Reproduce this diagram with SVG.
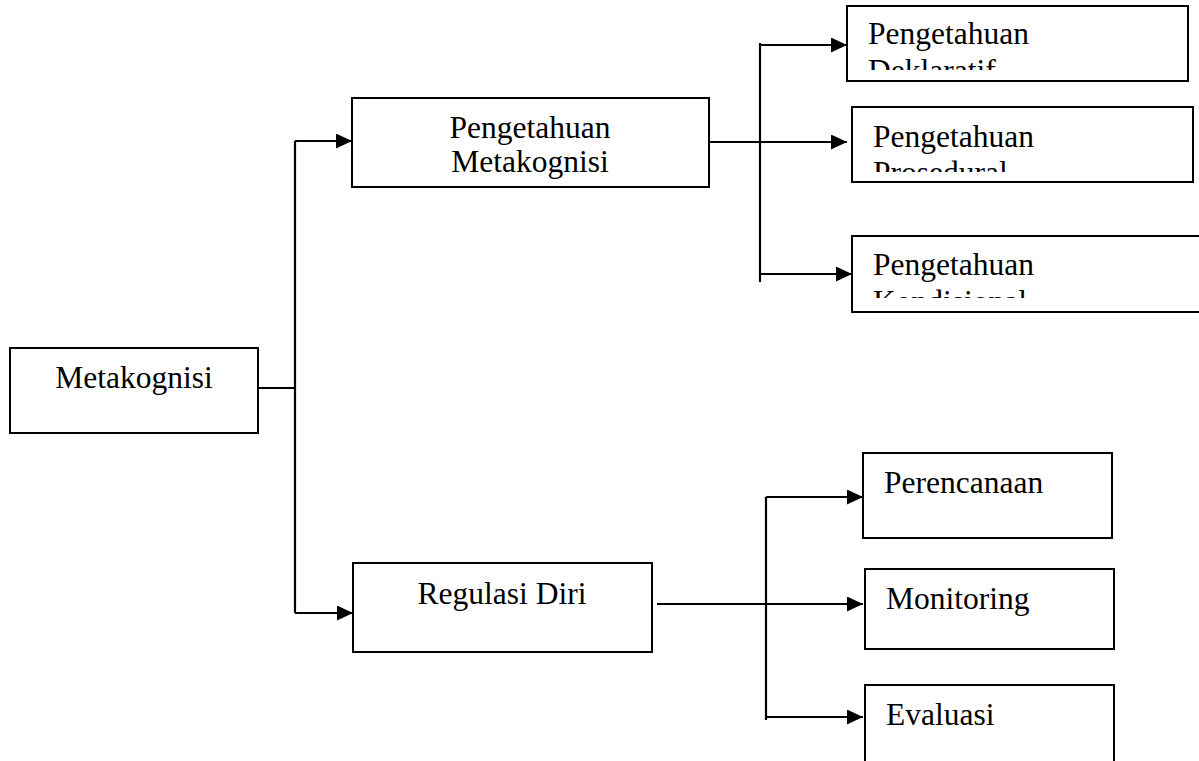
<svg xmlns="http://www.w3.org/2000/svg" width="1199" height="761" viewBox="0 0 1199 761">
<style>
.box{fill:#fff;stroke:#000;stroke-width:2}
.t{font-family:"Liberation Serif","Times New Roman",serif;font-size:31.5px;fill:#000}
.c{fill:none;stroke:#000;stroke-width:2.2}
</style>
<defs>
<marker id="ah" markerWidth="16" markerHeight="15" refX="16" refY="7.5" orient="auto" markerUnits="userSpaceOnUse">
<path d="M0,0 L16,7.5 L0,15 Z" fill="#000"/>
</marker>
<clipPath id="cp1"><rect x="848" y="7" width="339" height="63"/></clipPath>
<clipPath id="cp2"><rect x="853" y="108" width="339" height="64"/></clipPath>
<clipPath id="cp3"><rect x="853" y="237" width="346" height="61"/></clipPath>
</defs>
<g id="connectors">
<path class="c" d="M258,388 H295"/>
<path class="c" d="M295,141 V613"/>
<path class="c" d="M295,141 H352" marker-end="url(#ah)"/>
<path class="c" d="M295,613 H353" marker-end="url(#ah)"/>
<path class="c" d="M709,142 H847" marker-end="url(#ah)"/>
<path class="c" d="M760,43 V282"/>
<path class="c" d="M760,45 H847" marker-end="url(#ah)"/>
<path class="c" d="M760,274 H852" marker-end="url(#ah)"/>
<path class="c" d="M657,604 H863" marker-end="url(#ah)"/>
<path class="c" d="M766,497 V720"/>
<path class="c" d="M766,497 H863" marker-end="url(#ah)"/>
<path class="c" d="M766,717 H863" marker-end="url(#ah)"/>
</g>
<g id="metakognisi">
<rect class="box" x="10" y="348" width="248" height="85"/>
<text class="t" x="134" y="388" text-anchor="middle">Metakognisi</text>
</g>
<g id="pengetahuan-metakognisi">
<rect class="box" x="352" y="98" width="357" height="89"/>
<text class="t" x="530" y="138" text-anchor="middle">Pengetahuan</text>
<text class="t" x="530" y="172" text-anchor="middle">Metakognisi</text>
</g>
<g id="regulasi-diri">
<rect class="box" x="353" y="563" width="299" height="89"/>
<text class="t" x="502" y="604" text-anchor="middle">Regulasi Diri</text>
</g>
<g id="deklaratif">
<rect class="box" x="847" y="6" width="341" height="75"/>
<text class="t" x="868" y="44">Pengetahuan</text>
<text class="t" x="868" y="81" clip-path="url(#cp1)">Deklaratif</text>
</g>
<g id="prosedural">
<rect class="box" x="852" y="107" width="341" height="75"/>
<text class="t" x="873" y="147">Pengetahuan</text>
<text class="t" x="873" y="183" clip-path="url(#cp2)">Prosedural</text>
</g>
<g id="kondisional">
<rect class="box" x="852" y="236" width="360" height="76"/>
<text class="t" x="873" y="275">Pengetahuan</text>
<text class="t" x="873" y="312" clip-path="url(#cp3)">Kondisional</text>
</g>
<g id="perencanaan">
<rect class="box" x="863" y="453" width="249" height="85"/>
<text class="t" x="884" y="493">Perencanaan</text>
</g>
<g id="monitoring">
<rect class="box" x="865" y="569" width="249" height="80"/>
<text class="t" x="886" y="609">Monitoring</text>
</g>
<g id="evaluasi">
<rect class="box" x="865" y="685" width="249" height="90"/>
<text class="t" x="886" y="725">Evaluasi</text>
</g>
</svg>
